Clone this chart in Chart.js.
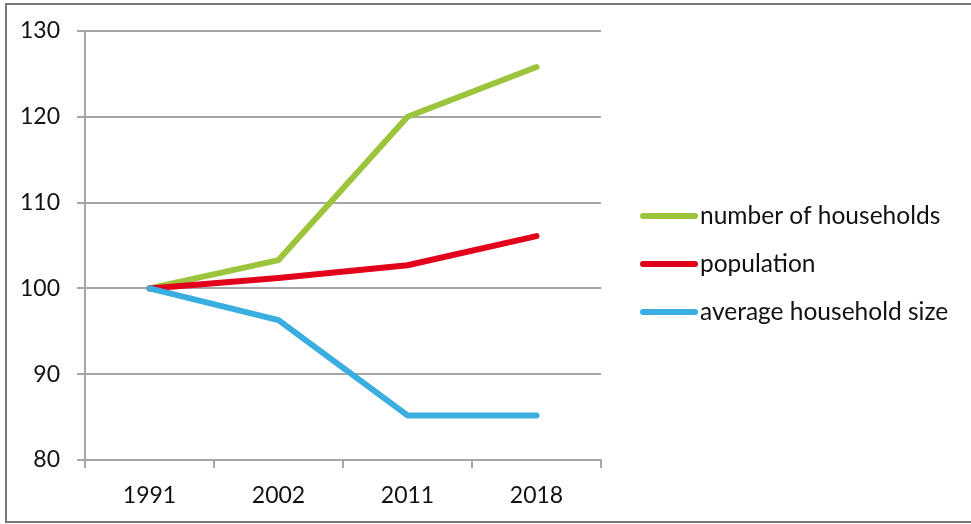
<!DOCTYPE html>
<html>
<head>
<meta charset="utf-8">
<script src="https://cdn.jsdelivr.net/npm/chart.js@4/dist/chart.umd.min.js"></script>
<style>
  html, body { margin: 0; padding: 0; background: #fff; }
  #wrap { position: relative; width: 971px; height: 524px; }
  #frame {
    position: absolute; left: 5px; top: 3px; right: -2px; bottom: 1px;
    border: 2px solid #777; border-right: none; pointer-events: none;
  }
  canvas { display: block; }
</style>
</head>
<body>
<div id="wrap">
  <canvas id="chart" width="971" height="524"></canvas>
  <div id="frame"></div>
</div>
<script>
// Index values, 1991 = 100
const years = ["1991", "2002", "2011", "2018"];
const households = [100, 103.3, 120, 125.8];
const population = [100, 101.2, 102.7, 106.1];
const householdSize = [100, 96.3, 85.2, 85.2];

const seriesNames = ["number of households", "population", "average household size"];
const seriesColors = ["#9cc43c", "#e2001a", "#3aaee0"];

const gray = "#a6a6a6";
const fontFamily = "Lato, 'Open Sans', sans-serif";

// legend drawn to the right of the plot, a short thick line per series
const sideLegend = {
  id: "sideLegend",
  afterDraw(chart) {
    const ctx = chart.ctx;
    const rows = [216, 264, 312];
    ctx.save();
    ctx.font = "24.5px " + fontFamily;
    ctx.textBaseline = "middle";
    ctx.fillStyle = "#111";
    seriesNames.forEach((name, i) => {
      ctx.strokeStyle = seriesColors[i];
      ctx.lineWidth = 6;
      ctx.lineCap = "round";
      ctx.beginPath();
      ctx.moveTo(643, rows[i]);
      ctx.lineTo(695, rows[i]);
      ctx.stroke();
      ctx.fillText(name, 700, rows[i]);
    });
    ctx.restore();
  },
};

const makeSet = (label, data, color, order) => ({
  label,
  data,
  borderColor: color,
  backgroundColor: color,
  borderWidth: 6,
  borderCapStyle: "round",
  borderJoinStyle: "round",
  pointRadius: 0,
  tension: 0,
  fill: false,
  order,
});

new Chart(document.getElementById("chart").getContext("2d"), {
  type: "line",
  data: {
    labels: years,
    datasets: [
      makeSet(seriesNames[0], households, seriesColors[0], 3),
      makeSet(seriesNames[1], population, seriesColors[1], 2),
      makeSet(seriesNames[2], householdSize, seriesColors[2], 1),
    ],
  },
  options: {
    responsive: false,
    animation: false,
    layout: { padding: { top: 31, right: 370, bottom: 0, left: 0 } },
    plugins: {
      legend: { display: false },
      tooltip: { enabled: false },
    },
    scales: {
      x: {
        offset: true,
        afterFit: (axis) => { axis.height = 64; },
        grid: {
          offset: true,
          drawOnChartArea: false,
          drawTicks: true,
          tickLength: 8,
          color: gray,
          lineWidth: 2,
        },
        border: { display: true, color: gray, width: 2 },
        ticks: {
          color: "#111",
          padding: 14,
          font: { family: fontFamily, size: 23 },
          maxRotation: 0,
        },
      },
      y: {
        min: 80,
        max: 130,
        afterFit: (axis) => { axis.width = 85; },
        grid: {
          color: gray,
          lineWidth: 2,
          tickLength: 8,
        },
        border: { display: true, color: gray, width: 2 },
        ticks: {
          stepSize: 10,
          color: "#111",
          padding: 17,
          font: { family: fontFamily, size: 23 },
        },
      },
    },
  },
  plugins: [sideLegend],
});
</script>
</body>
</html>
